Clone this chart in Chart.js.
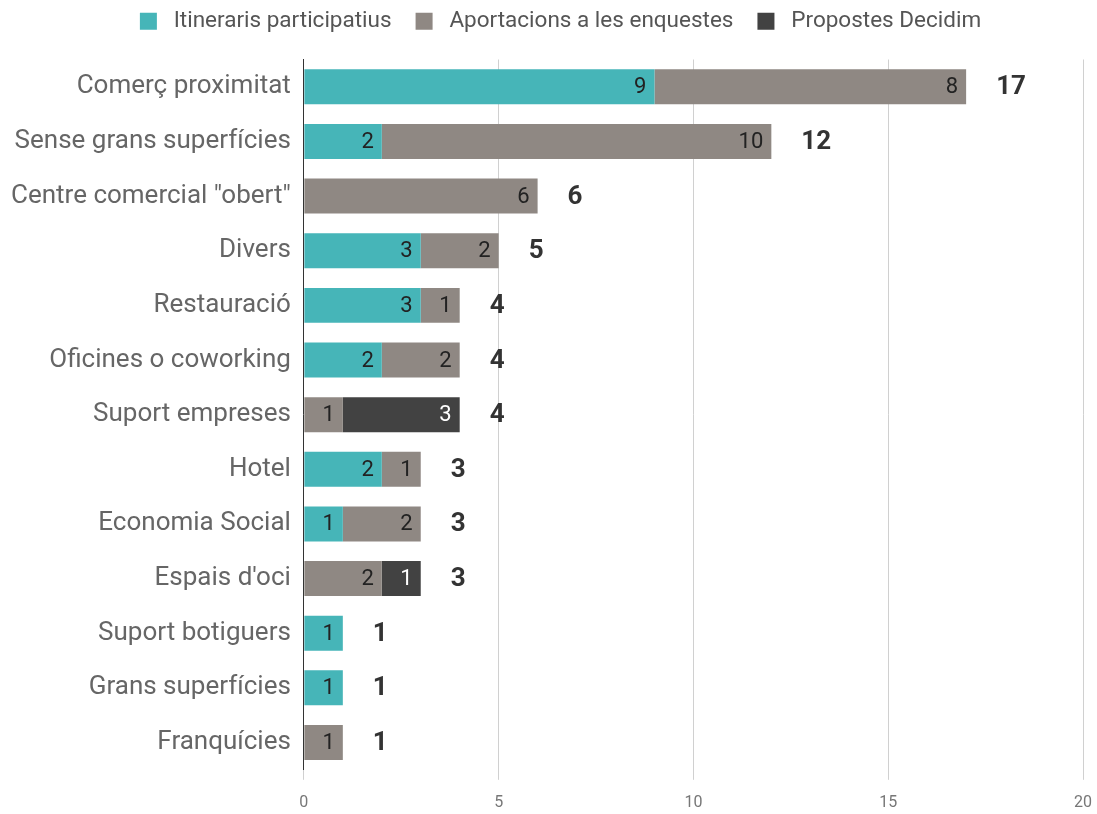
<!DOCTYPE html>
<html>
<head>
    <title>Comerç</title>
    <script src="https://cdn.jsdelivr.net/npm/chart.js"></script>
    <style>
        body { margin: 0; background: #fff; }
    </style>
</head>
<body>
    <canvas id="myChart" width="1097" height="814"></canvas>
    <script>
        const categories = ['Comerç proximitat', 'Sense grans superfícies', 'Centre comercial "obert"', 'Divers',
            'Restauració', 'Oficines o coworking', 'Suport empreses', 'Hotel', 'Economia Social',
            "Espais d'oci", 'Suport botiguers', 'Grans superfícies', 'Franquícies'];
        const itineraris = [9, 2, null, 3, 3, 2, null, 2, 1, null, 1, 1, null];
        const aportacions = [8, 10, 6, 2, 1, 2, 1, 1, 2, 2, null, null, 1];
        const propostes = [null, null, null, null, null, null, 3, null, null, 1, null, null, null];
        const xTicks = [0, 5, 10, 15, 20];

        const totals = categories.map((c, i) => (itineraris[i] || 0) + (aportacions[i] || 0) + (propostes[i] || 0));

        // labels inside the bars and the total after each bar
        const labelPlugin = {
            id: 'barLabels',
            afterDatasetsDraw(chart) {
                const ctx = chart.ctx;
                ctx.save();
                ctx.textBaseline = 'middle';
                ctx.textAlign = 'right';
                ctx.font = '22px Roboto';
                chart.data.datasets.forEach((ds, di) => {
                    const meta = chart.getDatasetMeta(di);
                    meta.data.forEach((bar, i) => {
                        if (ds.data[i] == null) return;
                        ctx.fillStyle = di === 2 ? '#ffffff' : '#222222';
                        ctx.fillText(ds.data[i], bar.x - 8, bar.y + 1);
                    });
                });
                const xScale = chart.scales.x;
                const yScale = chart.scales.y;
                ctx.textAlign = 'left';
                ctx.font = 'bold 26px Roboto';
                ctx.fillStyle = '#333333';
                totals.forEach((t, i) => {
                    ctx.fillText(t, xScale.getPixelForValue(t) + 30, yScale.getPixelForValue(i) + 1);
                });
                ctx.restore();
            }
        };

        // more room under the legend, and nudge it right
        const legendMargin = {
            id: 'legendMargin',
            beforeInit(chart) {
                const fit = chart.legend.fit;
                chart.legend.fit = function () {
                    fit.bind(chart.legend)();
                    this.height += 17;
                };
            },
            afterLayout(chart) {
                chart.legend.left += 20;
                chart.legend.right += 20;
            }
        };

        const ctx = document.getElementById('myChart').getContext('2d');
        new Chart(ctx, {
            type: 'bar',
            data: {
                labels: categories,
                datasets: [
                    { label: 'Itineraris participatius', data: itineraris, backgroundColor: '#46b5b8' },
                    { label: 'Aportacions a les enquestes', data: aportacions, backgroundColor: '#8f8883' },
                    { label: 'Propostes Decidim', data: propostes, backgroundColor: '#424242' }
                ]
            },
            options: {
                responsive: false,
                animation: false,
                indexAxis: 'y',
                categoryPercentage: 0.64,
                barPercentage: 1,
                layout: { padding: { left: -2, right: 14, top: -14, bottom: -13 } },
                plugins: {
                    legend: {
                        position: 'top',
                        labels: {
                            boxWidth: 17,
                            boxHeight: 17,
                            padding: 24,
                            color: '#555555',
                            font: { family: 'Roboto', size: 22.5 },
                            generateLabels: chart => {
                                const items = Chart.defaults.plugins.legend.labels.generateLabels(chart);
                                items.forEach(it => { it.text = ' ' + it.text; });
                                return items;
                            }
                        }
                    },
                    tooltip: { enabled: false }
                },
                scales: {
                    x: {
                        stacked: true,
                        min: 0,
                        max: 20,
                        afterBuildTicks: axis => { axis.ticks = xTicks.map(v => ({ value: v })); },
                        afterFit: axis => { axis.paddingRight = 0; },
                        grid: { color: '#d0d0d0', tickLength: 10 },
                        border: { display: false },
                        ticks: { color: '#777777', font: { family: 'Roboto', size: 16 }, padding: 14 }
                    },
                    y: {
                        stacked: true,
                        grid: { display: false, drawTicks: false },
                        border: { display: true, color: '#333333', width: 1 },
                        ticks: { color: '#666666', font: { family: 'Roboto', size: 26 }, padding: 13 }
                    }
                }
            },
            plugins: [labelPlugin, legendMargin]
        });
    </script>
</body>
</html>
